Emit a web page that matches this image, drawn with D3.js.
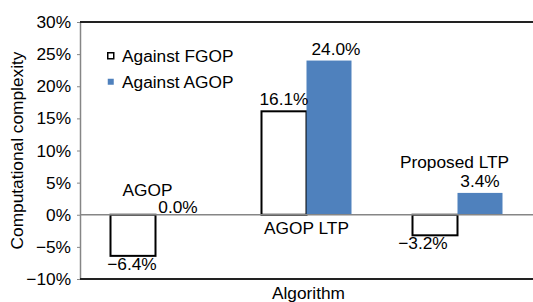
<!DOCTYPE html>
<html>
<head>
  <meta charset="utf-8">
  <script src="https://d3js.org/d3.v7.min.js"></script>
  <style>
    body { margin: 0; background: #fff; }
    svg { display: block; font-family: "Liberation Sans", Arial, sans-serif; }
    text { fill: #000; font-size: 17.3px; }
  </style>
</head>
<body>
  <div id="chart"></div>
  <script>
    // data
    const categories = ["AGOP", "AGOP LTP", "Proposed LTP"];
    const seriesNames = ["Against FGOP", "Against AGOP"];
    const againstFGOP = [-6.4, 16.1, -3.2];
    const againstAGOP = [0.0, 24.0, 3.4];
    const yTicks = [-10, -5, 0, 5, 10, 15, 20, 25, 30];

    const W = 533, H = 302;
    const plotL = 80, plotR = 533, plotT = 22, plotB = 279;
    const blue = "#4F81BD";

    const svg = d3.select("#chart").append("svg")
      .attr("width", W).attr("height", H);

    const x = d3.scaleBand().domain(categories).range([plotL, plotR])
      .paddingInner(0.404).paddingOuter(0.202);
    const xs = d3.scaleBand().domain(seriesNames).range([0, x.bandwidth()]);
    const y = d3.scaleLinear().domain([-10, 30]).range([plotB, plotT]);

    const fmtTick = d => (d < 0 ? "\u2212" + Math.abs(d) : d) + "%";
    const fmtVal = d => (d < 0 ? "\u2212" + Math.abs(d).toFixed(1) : d.toFixed(1)) + "%";

    // y axis
    const yAxis = svg.append("g")
      .attr("transform", `translate(${plotL},0)`)
      .call(d3.axisLeft(y).tickValues(yTicks).tickFormat(fmtTick).tickSizeInner(3).tickSizeOuter(0).tickPadding(6));
    yAxis.select(".domain").attr("stroke", "#868686").attr("stroke-width", 1.5);
    yAxis.selectAll(".tick line").attr("stroke", "#868686");
    yAxis.selectAll(".tick text").attr("font-size", 17).attr("font-family", null).attr("fill", "#000");

    // frame lines (top and bottom)
    svg.append("line").attr("x1", plotL).attr("x2", plotR)
      .attr("y1", y(30)).attr("y2", y(30)).attr("stroke", "#222").attr("stroke-width", 2);
    svg.append("line").attr("x1", plotL).attr("x2", plotR)
      .attr("y1", y(-10)).attr("y2", y(-10)).attr("stroke", "#222").attr("stroke-width", 2);

    // bars
    const rows = categories.map((c, i) => [
      { cat: c, s: seriesNames[0], v: againstFGOP[i], i: i },
      { cat: c, s: seriesNames[1], v: againstAGOP[i], i: i }
    ]).flat();

    svg.selectAll(".bar").data(rows).enter().append("rect")
      .attr("class", "bar")
      .attr("x", d => x(d.cat) + xs(d.s))
      .attr("y", d => y(Math.max(0, d.v)))
      .attr("width", xs.bandwidth())
      .attr("height", d => Math.abs(y(d.v) - y(0)))
      .attr("fill", d => d.s === seriesNames[0] ? "#fff" : blue)
      .attr("stroke", d => d.s === seriesNames[0] ? "#000" : "none")
      .attr("stroke-width", 2);

    // zero line
    svg.append("line").attr("x1", plotL).attr("x2", plotR)
      .attr("y1", y(0)).attr("y2", y(0)).attr("stroke", "#868686").attr("stroke-width", 1.5);

    // value labels (small nudges like the original label placement)
    const valDx = [-1, 0, 0, 7, -12, 0];
    svg.selectAll(".val").data(rows).enter().append("text")
      .attr("class", "val")
      .attr("text-anchor", "middle")
      .attr("x", (d, k) => x(d.cat) + xs(d.s) + xs.bandwidth() / 2 + valDx[k])
      .attr("y", d => d.v < 0 ? y(d.v) + 14 : (d.v === 0 ? y(0) - 2 : y(d.v) - 6))
      .text(d => fmtVal(d.v));

    // category labels
    const catDy = [-19, 19, -47];
    const catDx = [-8, 0, -3];
    svg.selectAll(".cat").data(categories).enter().append("text")
      .attr("class", "cat")
      .attr("text-anchor", "middle")
      .attr("x", (d, i) => x(d) + x.bandwidth() / 2 + catDx[i])
      .attr("y", (d, i) => y(0) + catDy[i])
      .text(d => d);

    // axis titles
    svg.append("text").attr("text-anchor", "middle")
      .attr("x", (plotL + plotR) / 2 + 2).attr("y", 299)
      .text("Algorithm");
    svg.append("text").attr("text-anchor", "middle")
      .attr("transform", `translate(23,${(plotT + plotB) / 2}) rotate(-90)`)
      .text("Computational complexity");

    // legend
    const legend = svg.append("g").attr("transform", "translate(107,52)");
    seriesNames.forEach((s, i) => {
      const g = legend.append("g").attr("transform", `translate(0,${i * 26})`);
      g.append("rect").attr("x", 0.75).attr("y", 0.75).attr("width", 6).attr("height", 6)
        .attr("fill", i === 0 ? "#fff" : blue)
        .attr("stroke", i === 0 ? "#000" : "none")
        .attr("stroke-width", 1.5);
      g.append("text").attr("x", 15).attr("y", 10).text(s);
    });
  </script>
</body>
</html>
